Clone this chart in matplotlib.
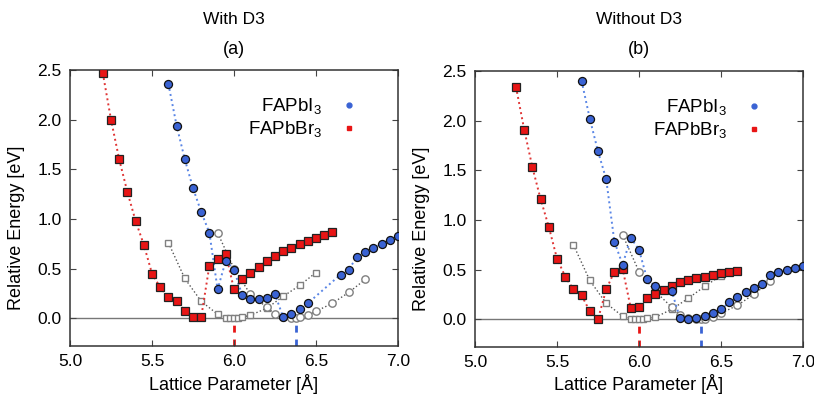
import matplotlib
matplotlib.use('Agg')
import matplotlib.pyplot as plt
from matplotlib.lines import Line2D

plt.rcParams['font.family'] = ['Liberation Sans', 'DejaVu Sans']
plt.rcParams['mathtext.fontset'] = 'custom'
plt.rcParams['mathtext.rm'] = 'Liberation Sans'

# ---- (a) With D3 ----
a_br_x = [5.20, 5.25, 5.30, 5.35, 5.40, 5.45, 5.50, 5.55, 5.60, 5.65, 5.70, 5.75, 5.80,
          5.85, 5.90, 5.95, 6.00, 6.05, 6.10, 6.15, 6.20, 6.25, 6.30, 6.35, 6.40, 6.45,
          6.50, 6.55, 6.60]
a_br_y = [2.47, 2.00, 1.60, 1.27, 0.98, 0.74, 0.45, 0.31, 0.21, 0.17, 0.07, 0.01, 0.01,
          0.53, 0.60, 0.65, 0.29, 0.39, 0.46, 0.52, 0.58, 0.63, 0.68, 0.71, 0.75, 0.78,
          0.81, 0.84, 0.87]
a_i_x = [5.60, 5.65, 5.70, 5.75, 5.80, 5.85, 5.90, 5.95, 6.00, 6.05, 6.10, 6.15, 6.20,
         6.25, 6.30, 6.35, 6.40, 6.45, 6.65, 6.70, 6.75, 6.80, 6.85, 6.90, 6.95, 7.00]
a_i_y = [2.36, 1.94, 1.60, 1.31, 1.07, 0.86, 0.29, 0.58, 0.49, 0.23, 0.19, 0.19, 0.20,
         0.24, 0.01, 0.04, 0.09, 0.15, 0.44, 0.49, 0.62, 0.67, 0.71, 0.75, 0.79, 0.83]
a_br2_x = [5.60, 5.70, 5.80, 5.90, 5.95, 5.975, 6.00, 6.025, 6.05, 6.10, 6.20, 6.30, 6.40, 6.50]
a_br2_y = [0.76, 0.40, 0.17, 0.04, 0.00, 0.00, 0.00, 0.00, 0.01, 0.03, 0.10, 0.22, 0.33, 0.46]
a_i2_x = [5.90, 6.00, 6.10, 6.20, 6.25, 6.30, 6.35, 6.375, 6.40, 6.45, 6.50, 6.60, 6.70, 6.80]
a_i2_y = [0.86, 0.50, 0.24, 0.11, 0.04, 0.01, 0.00, 0.00, 0.01, 0.03, 0.07, 0.15, 0.26, 0.39]

# ---- (b) Without D3 ----
b_br_x = [5.25, 5.30, 5.35, 5.40, 5.45, 5.50, 5.55, 5.60, 5.65, 5.70, 5.75,
          5.80, 5.85, 5.90, 5.95, 6.00, 6.05, 6.10, 6.15, 6.20, 6.25, 6.30, 6.35,
          6.40, 6.45, 6.50, 6.55, 6.60]
b_br_y = [2.34, 1.91, 1.53, 1.21, 0.93, 0.61, 0.43, 0.30, 0.24, 0.08, 0.00,
          0.30, 0.48, 0.51, 0.11, 0.12, 0.21, 0.25, 0.29, 0.33, 0.37, 0.39, 0.41,
          0.43, 0.45, 0.47, 0.48, 0.49]
b_i_x = [5.65, 5.70, 5.75, 5.80, 5.85, 5.90, 5.95, 6.00, 6.05, 6.10, 6.20, 6.25, 6.30,
         6.35, 6.40, 6.45, 6.50, 6.55, 6.60, 6.65, 6.70, 6.75, 6.80, 6.85, 6.90, 6.95, 7.00]
b_i_y = [2.40, 2.02, 1.69, 1.41, 0.78, 0.55, 0.82, 0.70, 0.40, 0.33, 0.28, 0.01, 0.00,
         0.01, 0.03, 0.06, 0.10, 0.17, 0.22, 0.27, 0.31, 0.35, 0.45, 0.48, 0.50, 0.52, 0.54]
b_br2_x = [5.60, 5.70, 5.80, 5.90, 5.95, 5.975, 6.00, 6.025, 6.05, 6.10, 6.20, 6.30, 6.40, 6.50]
b_br2_y = [0.75, 0.39, 0.16, 0.03, 0.00, 0.00, 0.00, 0.00, 0.01, 0.02, 0.10, 0.21, 0.33, 0.44]
b_i2_x = [5.90, 6.00, 6.10, 6.20, 6.25, 6.30, 6.35, 6.375, 6.40, 6.45, 6.50, 6.60, 6.70, 6.80]
b_i2_y = [0.85, 0.48, 0.28, 0.12, 0.04, 0.01, 0.00, 0.00, 0.00, 0.02, 0.06, 0.14, 0.25, 0.38]

exp_br = 6.0
exp_i = 6.38

panels = [
    ('With D3', '(a)', a_br_x, a_br_y, a_i_x, a_i_y, a_br2_x, a_br2_y, a_i2_x, a_i2_y),
    ('Without D3', '(b)', b_br_x, b_br_y, b_i_x, b_i_y, b_br2_x, b_br2_y, b_i2_x, b_i2_y),
]

blue = '#3a63d4'
blue_line = '#5a86e6'
red = '#e81515'
red_line = '#e03535'
gray = '#808080'

fig = plt.figure(figsize=(8.14, 3.96), dpi=100)
ax_rects = [[70 / 814, 50 / 396, 328 / 814, 276 / 396],
            [475 / 814, 49 / 396, 328 / 814, 276 / 396]]

for rect, (title, tag, brx, bry, ix, iy, br2x, br2y, i2x, i2y) in zip(ax_rects, panels):
    ax = fig.add_axes(rect)
    ax.axhline(0, color='#777777', lw=1.0, zorder=1)
    ax.plot([exp_br, exp_br], [-0.28, 0], color=red, lw=2, ls=(0, (2.5, 2.5)), zorder=1)
    ax.plot([exp_i, exp_i], [-0.28, 0], color=blue, lw=2, ls=(0, (2.5, 2.5)), zorder=1)

    ax.plot(br2x, br2y, ls=':', color='#555555', lw=1.0, marker='s', ms=5,
            mfc='white', mec=gray, mew=1.0, zorder=2)
    ax.plot(i2x, i2y, ls=':', color='#555555', lw=1.0, marker='o', ms=5.3,
            mfc='white', mec=gray, mew=1.0, zorder=2)
    ax.plot(brx, bry, ls=':', color=red_line, lw=1.4, zorder=3)
    ax.plot(brx, bry, ls='none', marker='s', ms=5.5, mfc=red, mec='#222222', mew=0.9, zorder=4)
    ax.plot(ix, iy, ls=':', color=blue_line, lw=1.4, zorder=3)
    ax.plot(ix, iy, ls='none', marker='o', ms=5.8, mfc=blue, mec='#111111', mew=0.9, zorder=4)

    ax.set_xlim(5.0, 7.0)
    ax.set_ylim(-0.28, 2.5)
    ax.set_xticks([5.0, 5.5, 6.0, 6.5, 7.0])
    ax.set_yticks([0.0, 0.5, 1.0, 1.5, 2.0, 2.5])
    ax.set_xticklabels(['5.0', '5.5', '6.0', '6.5', '7.0'])
    ax.set_yticklabels(['0.0', '0.5', '1.0', '1.5', '2.0', '2.5'])
    ax.tick_params(direction='in', top=True, right=True, labelsize=12.5, length=4,
                   width=0.8, color='#444444', pad=6)
    for s in ax.spines.values():
        s.set_color('#333333')
        s.set_linewidth(1.1)
    ax.set_xlabel('Lattice Parameter [Å]', fontsize=13, labelpad=3)
    ax.set_ylabel('Relative Energy [eV]', fontsize=13)
    ax.yaxis.set_label_coords(-0.138, 0.43)

    cx = rect[0] + rect[2] / 2
    fig.text(cx, 1 - 20 / 396, title, ha='center', va='center', fontsize=12.5)
    fig.text(cx, 1 - 50 / 396, tag, ha='center', va='center', fontsize=13)

    handles = [Line2D([0], [0], ls='none', marker='o', ms=3.5, mfc=blue, mec=blue),
               Line2D([0], [0], ls='none', marker='s', ms=3.5, mfc=red, mec=red)]
    ax.legend(handles, ['FAPbI$_3$', 'FAPbBr$_3$'], loc='upper right', frameon=False,
              markerfirst=False, fontsize=13.5, handlelength=1.2, handletextpad=0.8,
              labelspacing=0.15, bbox_to_anchor=(0.935, 0.965))

fig.savefig('out.png', dpi=100)
